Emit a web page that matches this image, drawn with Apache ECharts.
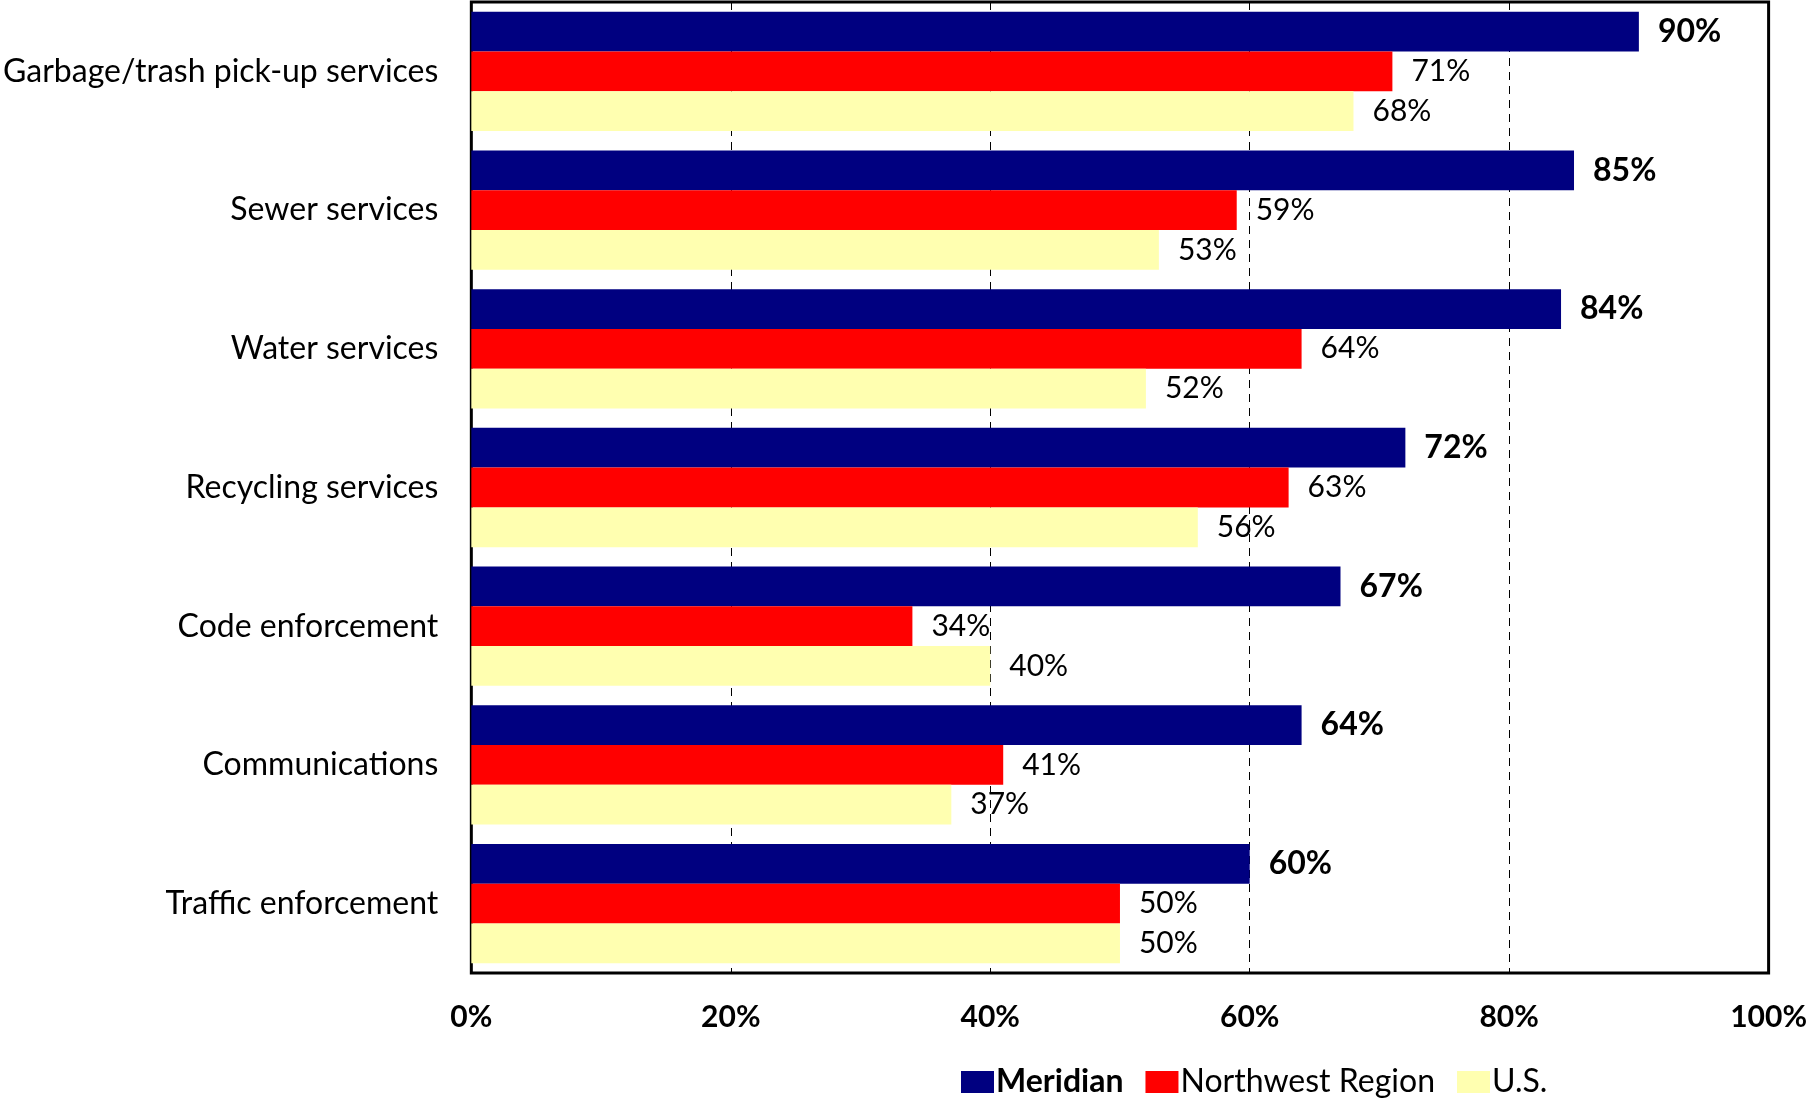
<!DOCTYPE html>
<html>
<head>
<meta charset="utf-8">
<script src="https://cdn.jsdelivr.net/npm/echarts@6/dist/echarts.min.js"></script>
<style>
  html, body { margin: 0; padding: 0; background: #fff; }
  #main { width: 1810px; height: 1100px; }
</style>
</head>
<body>
<div id="main"></div>
<script>
// 数据
var categories = ['Garbage/trash pick-up services', 'Sewer services', 'Water services',
  'Recycling services', 'Code enforcement', 'Communications', 'Traffic enforcement'];
var seriesNames = ['Meridian', 'Northwest Region', 'U.S.'];
var meridian = [90, 85, 84, 72, 67, 64, 60];
var northwest = [71, 59, 64, 63, 34, 41, 50];
var us = [68, 53, 52, 56, 40, 37, 50];
var xTicks = [0, 20, 40, 60, 80, 100];

var FONT = 'Lato';

var chart = echarts.init(document.getElementById('main'));

function labelStyle(bold) {
  return {
    show: true,
    position: 'right',
    distance: 19,
    formatter: '{c}%',
    color: '#000',
    fontFamily: FONT,
    fontSize: bold ? 32 : 30,
    fontWeight: bold ? 'bold' : 'normal'
  };
}

var option = {
  backgroundColor: '#fff',
  animation: false,
  grid: {
    left: 469,
    right: 40,
    top: 2,
    bottom: 127,
    show: true,
    borderColor: '#000',
    borderWidth: 3,
    backgroundColor: 'transparent'
  },
  legend: {
    data: seriesNames,
    left: 956,
    top: 1061,
    itemWidth: 33,
    itemHeight: 22,
    itemGap: 22,
    icon: 'rect',
    formatter: function (name) {
      return name === 'Meridian' ? '{b|' + name + '}' : '{n|' + name + '}';
    },
    textStyle: {
      color: '#000',
      fontFamily: FONT,
      padding: [0, 0, 0, -3],
      rich: {
        b: { fontFamily: FONT, fontSize: 32, fontWeight: 'bold', color: '#000' },
        n: { fontFamily: FONT, fontSize: 32, color: '#000' }
      }
    }
  },
  xAxis: {
    type: 'value',
    min: xTicks[0],
    max: xTicks[xTicks.length - 1],
    interval: 20,
    axisLine: { show: false },
    axisTick: { show: false },
    axisLabel: {
      formatter: '{value}%',
      color: '#000',
      fontFamily: FONT,
      fontWeight: 'bold',
      fontSize: 30,
      margin: 29
    },
    splitLine: {
      show: true,
      lineStyle: { color: '#000', width: 1, type: [8, 6] }
    }
  },
  yAxis: {
    type: 'category',
    data: categories,
    inverse: true,
    axisLine: { show: false },
    axisTick: { show: false },
    axisLabel: {
      color: '#000',
      fontFamily: FONT,
      fontSize: 32,
      margin: 33
    }
  },
  series: [
    {
      name: seriesNames[0],
      type: 'bar',
      data: meridian,
      barGap: '0%',
      barCategoryGap: '14%',
      itemStyle: { color: '#000080' },
      label: labelStyle(true)
    },
    {
      name: seriesNames[1],
      type: 'bar',
      data: northwest,
      barGap: '0%',
      barCategoryGap: '14%',
      itemStyle: { color: '#FF0000' },
      label: labelStyle(false)
    },
    {
      name: seriesNames[2],
      type: 'bar',
      data: us,
      barGap: '0%',
      barCategoryGap: '14%',
      itemStyle: { color: '#FFFFB0' },
      label: labelStyle(false)
    }
  ]
};

chart.setOption(option);
</script>
</body>
</html>
